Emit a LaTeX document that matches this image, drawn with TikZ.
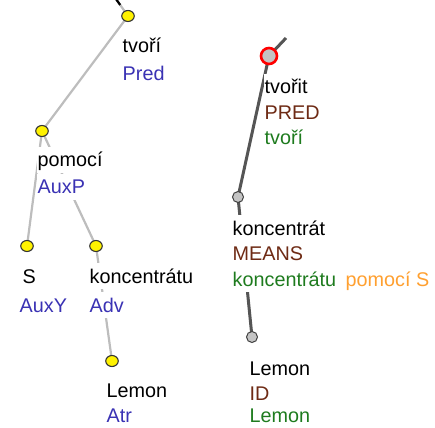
\documentclass[tikz,border=0pt]{standalone}
\usepackage{fontspec}
\setmainfont{Liberation Sans}
\usetikzlibrary{shapes.geometric,calc}
\definecolor{lgray}{HTML}{BDBDBD}
\definecolor{dgray}{HTML}{555555}
\definecolor{fblue}{HTML}{3A32B4}
\definecolor{fbrown}{HTML}{6E2A14}
\definecolor{fgreen}{HTML}{1E7B1E}
\definecolor{forange}{HTML}{FFA030}
\definecolor{dotgray}{HTML}{C4C4C4}
\tikzset{
  lbl/.style={anchor=base west, fill=white, inner xsep=0.5pt, inner ysep=5pt,
    text height=15pt, text depth=1pt, font=\fontsize{19.8}{23}\selectfont},
  lastlbl/.style={lbl, inner ysep=0pt, text depth=0pt, fill=none},
  ydot/.style={ellipse, draw=black!80, line width=1.1pt, fill=yellow,
    minimum width=12.5pt, minimum height=11pt, inner sep=0pt},
  gdot/.style={circle, draw=black!75, line width=1pt, fill=dotgray,
    minimum size=11pt, inner sep=0pt},
  rdot/.style={circle, draw=red, line width=2.6pt, fill=dotgray,
    minimum size=16pt, inner sep=0pt},
  ledge/.style={draw=lgray, line width=2.2pt},
  redge/.style={draw=dgray, line width=3pt},
}
\begin{document}
\begin{tikzpicture}[x=1pt,y=-1pt]
\useasboundingbox (0,0) rectangle (435,427);
% coordinates of dots
\coordinate (topL) at (116,-1);
\coordinate (topR) at (286,38);
\coordinate (pA) at (128,16);
\coordinate (pB) at (42,131);
\coordinate (pC) at (27,246);
\coordinate (pD) at (96,246);
\coordinate (pE) at (112,361);
\coordinate (qA) at (269,56);
\coordinate (qB) at (238,197);
\coordinate (qC) at (252,337);
% edges
\draw[ledge] (pA) -- (topL);
\draw[black, line width=2.2pt] (topL) -- ($(topL)!0.35!(pA)$);
\draw[ledge] (pA) -- (pB);
\draw[ledge] (pB) -- (pC);
\draw[ledge] (pB) -- (pD);
\draw[ledge] (pD) -- (pE);
\draw[redge] (qA) -- (topR);
\draw[redge] (qA) -- (qB);
\draw[redge] (qB) -- (qC);
% dots above edges
\node[ydot] (dA) at (pA) {};
\node[ydot] (dB) at (pB) {};
\node[ydot] (dC) at (pC) {};
\node[ydot] (dD) at (pD) {};
\node[ydot] (dE) at (pE) {};
\node[rdot] (rA) at (qA) {};
\node[gdot] (rB) at (qB) {};
\node[gdot] (rC) at (qC) {};
% left tree labels
\node[lbl] (t1) at (122,53) {tvoří};
\node[lbl, text=fblue] (t2) at (122,81) {Pred};
\node[lbl] (p1) at (37,167) {pomocí};
\node[lbl, text=fblue] (p2) at (37,194) {AuxP};
\node[lbl] (s1) at (22,283) {S};
\node[lbl, text=fblue] (s2) at (19,312) {AuxY};
\node[lbl] (k1) at (89,283) {koncentrátu};
\node[lbl, text=fblue] (k2) at (89,312) {Adv};
\node[lbl] (l1) at (106,397) {Lemon};
\node[lastlbl, text=fblue] (l2) at (106,422) {Atr};
% right tree labels
\node[lbl] (r1) at (264,94) {tvořit};
\node[lbl, text=fbrown] (r2) at (264,120) {PRED};
\node[lbl, text=fgreen] (r3) at (264,145) {tvoří};
\node[lbl] (c1) at (232,235) {koncentrát};
\node[lbl, text=fbrown] (c2) at (232,260) {MEANS};
\node[lbl, text=fgreen] (c3) at (232,286) {koncentrátu};
\node[lbl, text=forange] (c4) at (345,286) {pomocí S};
\node[lbl] (m1) at (249,375) {Lemon};
\node[lbl, text=fbrown] (m2) at (249,400) {ID};
\node[lastlbl, text=fgreen] (m3) at (249,422) {Lemon};
\end{tikzpicture}
\end{document}
